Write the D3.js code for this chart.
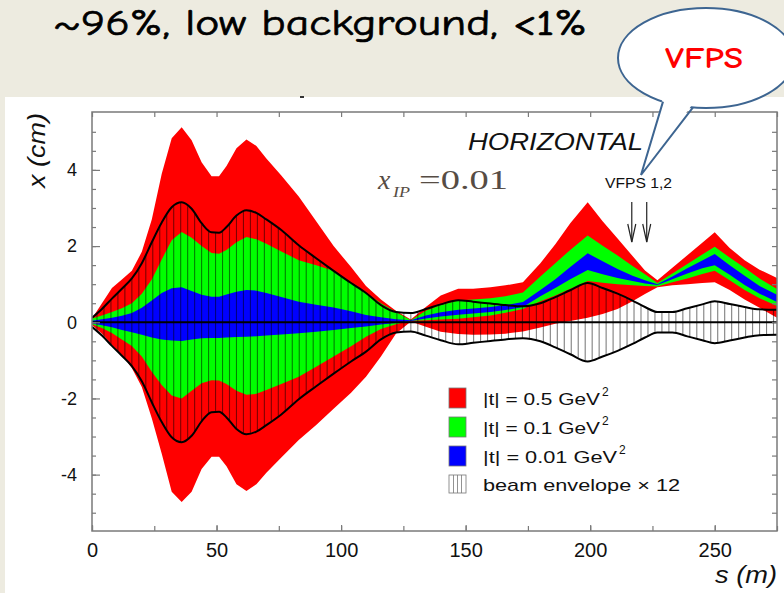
<!DOCTYPE html>
<html>
<head>
<meta charset="utf-8">
<script src="https://cdn.jsdelivr.net/npm/d3@7"></script>
<style>
  html, body { margin: 0; padding: 0; background: #edebe0; }
  svg { display: block; }
</style>
</head>
<body>
<svg id="chart" width="784" height="593"></svg>
<script>
// ---- data: beam-line position s (m) and band edges x (cm) ----
const sGrid = [0,4,8,12,16,20,24,28,32,36,40,44,48,51,54,58,62,66,70,76,83,90,97,104,110,116,122,128,
  134,140,147,153,160,166,173,180,186,192,199,205,211,217,222,227,233,239,245,250,256,262,268,275];

// |t| = 0.5 GeV^2
const redHi = [0.1,0.5,0.9,1.12,1.35,1.85,2.7,3.9,4.83,5.12,4.78,4.2,3.83,3.83,4.1,4.57,4.8,4.63,4.3,3.85,3.3,2.65,2.0,1.45,0.95,0.6,0.3,0.07,
  0.4,0.7,0.88,0.88,0.92,0.97,1.05,1.55,2.05,2.6,3.15,2.65,2.2,1.74,1.36,1.1,1.43,1.76,2.09,2.36,1.95,1.63,1.38,1.16];
const redLo = [-0.07,-0.3,-0.6,-0.85,-1.2,-1.7,-2.52,-3.45,-4.45,-4.72,-4.45,-3.85,-3.53,-3.53,-3.78,-4.25,-4.43,-4.25,-3.95,-3.55,-3.09,-2.7,-2.27,-1.85,-1.43,-0.9,-0.3,0.02,
  -0.12,-0.25,-0.31,-0.33,-0.32,-0.3,-0.24,-0.14,-0.04,0.03,0.12,0.22,0.35,0.55,0.74,0.92,0.97,1.0,1.03,1.05,0.85,0.6,0.38,0.12];

// |t| = 0.1 GeV^2
const greenHi = [0.1,0.18,0.27,0.37,0.5,0.75,1.12,1.65,2.15,2.37,2.22,2.0,1.82,1.8,1.9,2.1,2.24,2.18,2.06,1.86,1.63,1.5,1.35,1.05,0.77,0.5,0.27,0.05,
  0.3,0.45,0.57,0.6,0.63,0.68,0.78,1.2,1.55,1.9,2.28,2.01,1.75,1.48,1.26,1.03,1.28,1.53,1.78,1.98,1.7,1.43,1.15,0.87];
const greenLo = [-0.05,-0.15,-0.28,-0.45,-0.62,-0.9,-1.3,-1.65,-1.92,-2.0,-1.8,-1.6,-1.52,-1.53,-1.62,-1.8,-1.9,-1.88,-1.78,-1.62,-1.43,-1.17,-0.9,-0.63,-0.38,-0.18,-0.05,0.04,
  0.05,0.07,0.09,0.13,0.18,0.25,0.35,0.55,0.7,0.88,1.08,1.04,1.0,0.97,0.95,0.94,1.05,1.15,1.27,1.35,1.1,0.85,0.63,0.43];

// |t| = 0.01 GeV^2
const blueHi = [0.04,0.08,0.12,0.17,0.24,0.38,0.57,0.77,0.89,0.92,0.82,0.72,0.67,0.67,0.73,0.8,0.85,0.83,0.77,0.66,0.54,0.46,0.39,0.29,0.19,0.13,0.08,0.05,
  0.18,0.26,0.33,0.36,0.4,0.45,0.53,0.85,1.13,1.45,1.81,1.6,1.4,1.22,1.1,1.0,1.2,1.42,1.62,1.79,1.5,1.22,0.95,0.72];
const blueLo = [-0.03,-0.08,-0.13,-0.2,-0.26,-0.33,-0.4,-0.45,-0.48,-0.49,-0.45,-0.42,-0.41,-0.41,-0.4,-0.39,-0.38,-0.37,-0.35,-0.32,-0.29,-0.25,-0.2,-0.15,-0.11,-0.06,-0.02,0.03,
  0.1,0.15,0.2,0.23,0.27,0.32,0.4,0.68,0.9,1.13,1.37,1.26,1.16,1.08,1.02,0.98,1.13,1.28,1.42,1.5,1.25,0.98,0.75,0.53];

// beam envelope x 12 (half width, symmetric about 0)
const envHalf = [0.12,0.35,0.62,0.88,1.15,1.55,2.1,2.62,3.02,3.15,2.98,2.6,2.36,2.35,2.5,2.8,2.94,2.87,2.7,2.42,2.02,1.68,1.35,1.03,0.77,0.45,0.27,0.24,
  0.35,0.47,0.58,0.54,0.49,0.45,0.42,0.5,0.66,0.84,1.03,0.9,0.75,0.57,0.4,0.27,0.27,0.37,0.47,0.55,0.48,0.4,0.34,0.33];

const xTickLabels = [0, 50, 100, 150, 200, 250];
const yTickLabels = [-4, -2, 0, 2, 4];
const legendLabels = ["|t| = 0.5 GeV", "|t| = 0.1 GeV", "|t| = 0.01 GeV", "beam envelope \u00d7 12"];
const legendColors = ["#ff0000", "#00ff00", "#0000ff", null];
const vfpsArrowS = [216.7, 222.7];

// ---- layout ----
const W = 784, H = 593;
const svg = d3.select("#chart");
const FONT = "'Liberation Sans', Arial, Helvetica, sans-serif";

svg.append("rect").attr("width", W).attr("height", H).attr("fill", "#edebe0");
svg.append("rect").attr("x", 5).attr("y", 97).attr("width", W - 5).attr("height", H - 97).attr("fill", "#fff");
svg.append("rect").attr("x", 300).attr("y", 96).attr("width", 4).attr("height", 2).attr("fill", "#333");

const x = d3.scaleLinear().domain([0, 275]).range([92, 777]);
const y = d3.scaleLinear().domain([-5.48, 5.52]).range([531, 112]);

svg.append("defs").append("clipPath").attr("id", "plotClip")
  .append("rect").attr("x", 92).attr("y", 112).attr("width", 685).attr("height", 419);
const plot = svg.append("g").attr("clip-path", "url(#plotClip)");

function band(lo, hi, color) {
  const area = d3.area()
    .x((d, i) => x(sGrid[i]))
    .y0((d, i) => y(lo[i]))
    .y1((d, i) => y(hi[i]));
  plot.append("path").datum(sGrid).attr("d", area).attr("fill", color);
}
band(redLo, redHi, legendColors[0]);
band(greenLo, greenHi, legendColors[1]);
band(blueLo, blueHi, legendColors[2]);

// vertical hatching inside the beam envelope
const envAt = d3.scaleLinear().domain(sGrid).range(envHalf);
const hatchS = d3.range(2, 275, 2.8);
plot.append("g").selectAll("line").data(hatchS).join("line")
  .attr("x1", d => x(d)).attr("x2", d => x(d))
  .attr("y1", d => y(envAt(d))).attr("y2", d => y(-envAt(d)))
  .attr("stroke", "#000").attr("stroke-opacity", 0.5).attr("stroke-width", 1.1);

const envLine = d3.line()
  .x((d, i) => x(sGrid[i]))
  .y(d => y(d))
  .curve(d3.curveMonotoneX);
plot.append("path").datum(envHalf).attr("d", envLine)
  .attr("fill", "none").attr("stroke", "#000").attr("stroke-width", 2);
plot.append("path").datum(envHalf.map(v => -v)).attr("d", envLine)
  .attr("fill", "none").attr("stroke", "#000").attr("stroke-width", 2);

plot.append("line").attr("x1", x(0)).attr("x2", x(275)).attr("y1", y(0)).attr("y2", y(0))
  .attr("stroke", "#000").attr("stroke-width", 2);

// ---- frame and axes ----
svg.append("rect").attr("x", 92).attr("y", 112).attr("width", 685).attr("height", 419)
  .attr("fill", "none").attr("stroke", "#7a7a7a").attr("stroke-width", 1.5);

function styleAxis(g) {
  g.select(".domain").remove();
  g.selectAll(".tick line").attr("stroke", "#7a7a7a").attr("stroke-width", 1.2);
  g.selectAll(".tick text").attr("fill", "#111").attr("font-family", FONT);
}
const xMinor = d3.range(0, 276, 25);
const yMinor = d3.range(-5, 5.01, 0.5);

svg.append("g").attr("transform", "translate(0,531)")
  .call(d3.axisBottom(x).tickValues(xMinor).tickSize(-5).tickFormat(""))
  .call(styleAxis);
svg.append("g").attr("transform", "translate(0,531)")
  .call(d3.axisBottom(x).tickValues(xTickLabels).tickSize(-6).tickPadding(12).tickFormat(d => String(d)))
  .call(styleAxis)
  .call(g => g.selectAll(".tick text").attr("font-size", 20));
svg.append("g").attr("transform", "translate(0,112)")
  .call(d3.axisTop(x).tickValues(xMinor).tickSize(-5).tickFormat(""))
  .call(styleAxis);

svg.append("g").attr("transform", "translate(92,0)")
  .call(d3.axisLeft(y).tickValues(yMinor).tickSize(-4).tickFormat(""))
  .call(styleAxis);
svg.append("g").attr("transform", "translate(92,0)")
  .call(d3.axisLeft(y).tickValues(yTickLabels).tickSize(-8).tickPadding(15).tickFormat(d => String(d)))
  .call(styleAxis)
  .call(g => g.selectAll(".tick text").attr("font-size", 18));
svg.append("g").attr("transform", "translate(777,0)")
  .call(d3.axisRight(y).tickValues(yMinor).tickSize(-5).tickFormat(""))
  .call(styleAxis);

// axis titles
svg.append("text").attr("transform", "translate(45,188) rotate(-90)")
  .attr("font-family", FONT).attr("font-style", "italic").attr("font-size", 24)
  .attr("textLength", 75).attr("lengthAdjust", "spacingAndGlyphs").attr("fill", "#111")
  .text("x (cm)");
svg.append("text").attr("x", 777).attr("y", 583).attr("text-anchor", "end")
  .attr("font-family", FONT).attr("font-style", "italic").attr("font-size", 24)
  .attr("textLength", 62).attr("lengthAdjust", "spacingAndGlyphs").attr("fill", "#111")
  .text("s (m)");

// ---- annotations ----
svg.append("text").attr("x", 468).attr("y", 150)
  .attr("font-family", FONT).attr("font-style", "italic").attr("font-size", 24)
  .attr("textLength", 175).attr("lengthAdjust", "spacingAndGlyphs").attr("fill", "#111")
  .text("HORIZONTAL");

const SERIF = "'Liberation Serif', 'Times New Roman', serif";
const ipColor = "#564c44";
svg.append("text").attr("x", 378).attr("y", 189)
  .attr("font-family", SERIF).attr("font-style", "italic").attr("font-size", 28).attr("fill", ipColor)
  .text("x");
svg.append("text").attr("x", 393).attr("y", 197)
  .attr("font-family", SERIF).attr("font-style", "italic").attr("font-size", 15).attr("fill", ipColor)
  .attr("textLength", 17).attr("lengthAdjust", "spacingAndGlyphs")
  .text("IP");
svg.append("text").attr("x", 419).attr("y", 189)
  .attr("font-family", SERIF).attr("font-size", 28).attr("fill", ipColor)
  .attr("textLength", 89).attr("lengthAdjust", "spacingAndGlyphs")
  .text("=0.01");

svg.append("text").attr("x", 605).attr("y", 188)
  .attr("font-family", FONT).attr("font-size", 14).attr("fill", "#111")
  .attr("textLength", 67).attr("lengthAdjust", "spacingAndGlyphs")
  .text("VFPS 1,2");

const arrows = svg.append("g").attr("stroke", "#222").attr("stroke-width", 1.2).attr("fill", "none");
vfpsArrowS.forEach(s => {
  const ax = x(s);
  arrows.append("line").attr("x1", ax).attr("x2", ax).attr("y1", 202).attr("y2", 242);
  arrows.append("path").attr("d", `M${ax - 4},224 L${ax},242 L${ax + 4},224`);
});

// ---- legend ----
const legend = svg.append("g");
const rowY = [398, 427, 456, 484];
legendLabels.forEach((lab, i) => {
  const cy = rowY[i];
  if (legendColors[i]) {
    legend.append("rect").attr("x", 449).attr("y", cy - 10).attr("width", 17).attr("height", 20)
      .attr("fill", legendColors[i]).attr("stroke", "#777").attr("stroke-width", 0.8);
  } else {
    legend.append("rect").attr("x", 449).attr("y", cy - 9).attr("width", 17).attr("height", 18)
      .attr("fill", "#fff").attr("stroke", "#777").attr("stroke-width", 0.8);
    [453.5, 457.5, 461.5].forEach(lx => legend.append("line")
      .attr("x1", lx).attr("x2", lx).attr("y1", cy - 9).attr("y2", cy + 9)
      .attr("stroke", "#777").attr("stroke-width", 0.8));
  }
  const widths = [117, 117, 134, 197];
  legend.append("text").attr("x", 483).attr("y", cy + 7)
    .attr("font-family", FONT).attr("font-size", 17).attr("fill", "#111")
    .attr("textLength", widths[i]).attr("lengthAdjust", "spacingAndGlyphs")
    .text(lab);
  if (i < 3) {
    legend.append("text").attr("x", 483 + widths[i] + 2).attr("y", cy - 2)
      .attr("font-family", FONT).attr("font-size", 12).attr("fill", "#111")
      .text("2");
  }
});

// ---- headline ----
svg.append("text").attr("x", 53).attr("y", 35)
  .attr("font-family", "'Comic Sans MS', 'Comic Neue', 'DejaVu Sans', sans-serif")
  .attr("font-size", 37).attr("fill", "#000").attr("stroke", "#000").attr("stroke-width", 0.7)
  .attr("textLength", 534).attr("lengthAdjust", "spacingAndGlyphs")
  .text("~96%, low background, <1%");

// ---- callout bubble ----
const bub = { cx: 706, cy: 58, rx: 88, ry: 50 };
const onEllipse = px => [px, bub.cy + bub.ry * Math.sqrt(1 - ((px - bub.cx) / bub.rx) ** 2)];
const baseL = onEllipse(663), baseR = onEllipse(693), tip = [641, 175];
const bubbleStroke = "#3d6591";
svg.append("ellipse").attr("cx", bub.cx).attr("cy", bub.cy).attr("rx", bub.rx).attr("ry", bub.ry)
  .attr("fill", "#fff").attr("stroke", bubbleStroke).attr("stroke-width", 2);
svg.append("path")
  .attr("d", `M${baseL[0]},${baseL[1] - 4} L${tip[0]},${tip[1]} L${baseR[0]},${baseR[1] - 4} Z`)
  .attr("fill", "#fff");
svg.append("path")
  .attr("d", `M${baseL[0]},${baseL[1]} L${tip[0]},${tip[1]} L${baseR[0]},${baseR[1]}`)
  .attr("fill", "none").attr("stroke", bubbleStroke).attr("stroke-width", 2).attr("stroke-linejoin", "miter");
svg.append("text").attr("x", 665).attr("y", 68)
  .attr("font-family", "'Comic Sans MS', 'Comic Neue', 'DejaVu Sans', sans-serif")
  .attr("font-weight", "bold").attr("font-size", 31).attr("fill", "#ff0000")
  .attr("textLength", 78).attr("lengthAdjust", "spacingAndGlyphs")
  .text("VFPS");
</script>
</body>
</html>
